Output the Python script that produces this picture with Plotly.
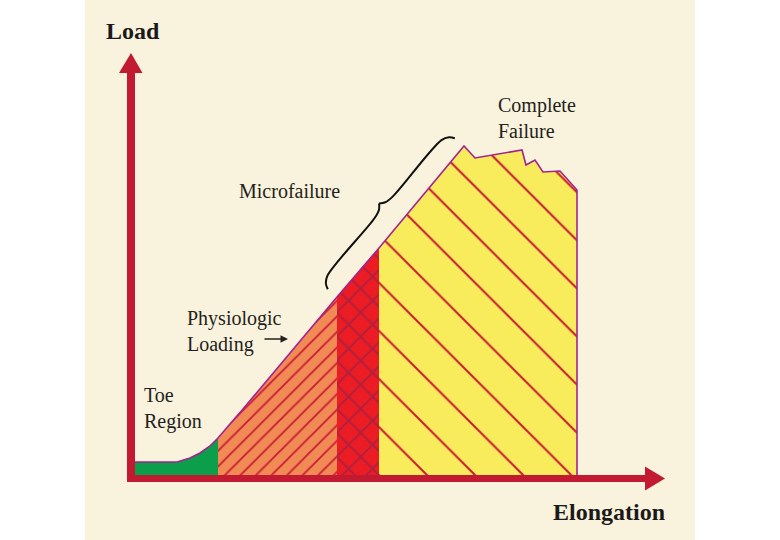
import math
import plotly.graph_objects as go

# ---- data (chart units: elongation, load) ----
elong = [3, 47, 60, 70, 80, 88, 100, 113, 207, 249, 334, 345, 392, 396, 405, 413, 430, 447, 447]
load = [13, 13, 17, 22, 29, 37, 51, 66, 178, 227, 329, 317, 325, 310, 315, 303, 304, 285, 0]

region_names = ["Toe Region", "Physiologic Loading", "Microfailure", "Complete Failure"]
region_bounds = [3, 88, 207, 249, 447]
region_colors = ["#0c9f4b", "#f28a56", "#ec1c24", "#f8ec5c"]
region_hatch = ["", "/", "x", "\\"]
hatch_color = ["#c81e32", "#c81e32", "#b21f3c", "#c81e32"]
hatch_size = [8, 11, 17, 34]
hatch_solidity = [0.0, 0.17, 0.22, 0.06]

axis_labels = ["Load", "Elongation"]

CREAM = "#f9f2dc"
AXIS = "#c21a30"
OUTLINE = "#a3238f"
SERIF = "Liberation Serif"

fig = go.Figure()

# region fills
for i, name in enumerate(region_names):
    a, b = region_bounds[i], region_bounds[i + 1]
    pts = [(x, y) for x, y in zip(elong, load) if a <= x <= b]
    xs = [a] + [p[0] for p in pts] + [b, a]
    ys = [0] + [p[1] for p in pts] + [0, 0]
    kw = dict(x=xs, y=ys, mode="lines", fill="toself", fillcolor=region_colors[i],
              line=dict(width=0), name=name, hoverinfo="skip", showlegend=False)
    if region_hatch[i]:
        kw["fillpattern"] = dict(shape=region_hatch[i], fgcolor=hatch_color[i],
                                 bgcolor=region_colors[i], size=hatch_size[i],
                                 solidity=hatch_solidity[i], fillmode="replace")
    fig.add_trace(go.Scatter(**kw))

# curve outline
fig.add_trace(go.Scatter(x=elong, y=load, mode="lines", line=dict(color=OUTLINE, width=1.6),
                         hoverinfo="skip", showlegend=False))

# microfailure brace, built along the curve segment from microfailure start to peak
i0 = elong.index(region_bounds[2])
ipk = load.index(max(load))
x0, y0 = elong[i0], load[i0]
x1, y1 = elong[ipk], load[ipk]
L = math.hypot(x1 - x0, y1 - y0)
ux, uy = (x1 - x0) / L, (y1 - y0) / L
px_, py_ = -uy, ux
half = [(0, 12), (3, 17), (10, 21), (L / 2 - 14, 22), (L / 2 - 5, 24), (L / 2, 28)]
for side in (0, 1):
    bx, by = [], []
    for u, v in half:
        uu = u if side == 0 else L - u
        bx.append(x0 + ux * uu + px_ * v)
        by.append(y0 + uy * uu + py_ * v)
    fig.add_trace(go.Scatter(x=bx, y=by, mode="lines",
                             line=dict(color="#111111", width=2, shape="spline", smoothing=1.0),
                             hoverinfo="skip", showlegend=False))

# background parchment panel
shapes = [dict(type="rect", xref="x", yref="y", x0=-45, x1=565, y0=-65, y1=475,
               fillcolor=CREAM, line=dict(width=0), layer="below")]
# axes with arrows
shapes += [
    dict(type="line", x0=1, y0=-7, x1=1, y1=404, line=dict(color=AXIS, width=8)),
    dict(type="path", path="M -11 402 L 12.5 402 L 1 422 Z", fillcolor=AXIS, line=dict(width=0)),
    dict(type="line", x0=-3, y0=-3.5, x1=517, y1=-3.5, line=dict(color=AXIS, width=7)),
    dict(type="path", path="M 515 8.5 L 515 -15.5 L 535 -3.5 Z", fillcolor=AXIS, line=dict(width=0)),
]

tfont = dict(family=SERIF, size=20, color="#231f20")
bfont = dict(family=SERIF, size=24, color="#1a1a1a")
annotations = [
    dict(x=-26, y=444, text="<b>%s</b>" % axis_labels[0], font=bfont),
    dict(x=421, y=-37, text="<b>%s</b>" % axis_labels[1], font=bfont),
    dict(x=366, y=357, text="Complete<br>Failure", font=tfont),
    dict(x=107, y=284, text="Microfailure", font=tfont),
    dict(x=55, y=144, text="Physiologic<br>Loading", font=tfont),
    dict(x=12, y=67, text="Toe<br>Region", font=tfont),
]
for a in annotations:
    a.update(xref="x", yref="y", showarrow=False, xanchor="left", yanchor="middle", align="left")
annotations.append(dict(x=158, y=136, ax=133, ay=136, xref="x", yref="y", axref="x", ayref="y",
                        text="", showarrow=True, arrowhead=2, arrowsize=1, arrowwidth=1.5,
                        arrowcolor="#222222"))

fig.update_layout(
    width=780, height=540, margin=dict(l=0, r=0, t=0, b=0),
    paper_bgcolor="white", plot_bgcolor="white",
    xaxis=dict(range=[-130, 650], visible=False, fixedrange=True),
    yaxis=dict(range=[-65, 475], visible=False, fixedrange=True),
    shapes=shapes, annotations=annotations, showlegend=False,
)
fig.write_html("out.html", config={"displayModeBar": False},
               post_script="document.body.style.margin='0';document.body.style.overflow='hidden';")
